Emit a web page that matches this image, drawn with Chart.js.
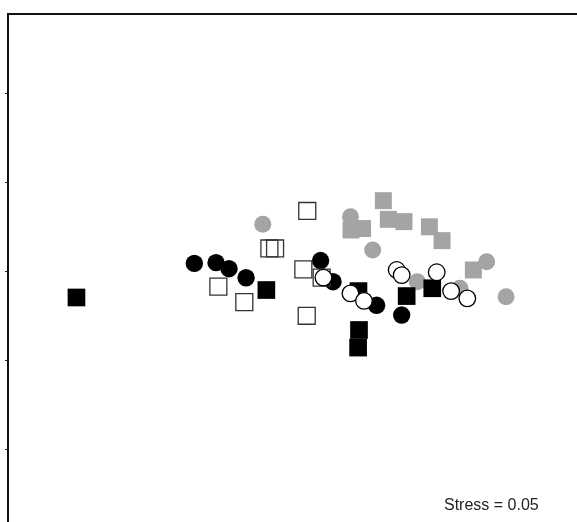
<!DOCTYPE html>
<html>
<head>
<meta charset="utf-8">
<script src="https://cdn.jsdelivr.net/npm/chart.js@4.4.1/dist/chart.umd.min.js"></script>
<style>
  html, body { margin: 0; padding: 0; background: #fff; overflow: hidden; }
  #nmds { display: block; }
</style>
</head>
<body>
<canvas id="nmds" width="577" height="522"></canvas>
<script>
// NMDS ordination, axis 1 (x) vs axis 2 (y)
const filledSquares = [
  [-1.365, -0.146], [-0.297, -0.104], [0.221, -0.110], [0.224, -0.329],
  [0.219, -0.428], [0.492, -0.138], [0.636, -0.094]
];
const openSquares = [
  [-0.067, 0.341], [-0.280, 0.130], [-0.248, 0.130], [-0.567, -0.085],
  [-0.421, -0.172], [-0.089, 0.012], [0.014, -0.034], [-0.070, -0.249]
];
const filledCircles = [
  [-0.702, 0.046], [-0.580, 0.050], [-0.507, 0.016], [-0.411, -0.035],
  [0.008, 0.062], [0.078, -0.057], [0.323, -0.190], [0.464, -0.245]
];
const openCircles = [
  [0.024, -0.034], [0.176, -0.123], [0.252, -0.165], [0.436, 0.009],
  [0.464, -0.020], [0.661, -0.004], [0.742, -0.110], [0.833, -0.151]
];
const greyCircles = [
  [-0.317, 0.266], [0.176, 0.309], [0.301, 0.121], [0.552, -0.057],
  [0.792, -0.094], [0.942, 0.055], [1.051, -0.142]
];
const greySquares = [
  [0.361, 0.399], [0.179, 0.234], [0.244, 0.242], [0.389, 0.294],
  [0.477, 0.281], [0.620, 0.252], [0.691, 0.174], [0.867, 0.009]
];
const yTickValues = [-1, -0.5, 0, 0.5, 1];
const stressLabel = 'Stress = 0.05';

const GREY = '#a4a4a4';
const toXY = arr => arr.map(([x, y]) => ({ x, y }));

// lower "order" is painted on top
function series(points, style, order) {
  return Object.assign({ data: toXY(points), order }, style);
}

const datasets = [
  series(greySquares, { pointStyle: 'rect', pointRadius: 12, backgroundColor: GREY, borderWidth: 0 }, 6),
  series(greyCircles, { pointStyle: 'circle', pointRadius: 8.5, backgroundColor: GREY, borderWidth: 0 }, 5),
  series(filledSquares, { pointStyle: 'rect', pointRadius: 12.5, backgroundColor: '#000', borderWidth: 0 }, 4),
  series(filledCircles, { pointStyle: 'circle', pointRadius: 8.7, backgroundColor: '#000', borderWidth: 0 }, 3),
  series(openSquares, { pointStyle: 'rect', pointRadius: 12, backgroundColor: 'rgba(255,255,255,0)', borderColor: '#333', borderWidth: 1.3 }, 2),
  series(openCircles, { pointStyle: 'circle', pointRadius: 8.3, backgroundColor: '#fff', borderColor: '#000', borderWidth: 1.3 }, 1)
];

const stressText = {
  id: 'stressText',
  afterDraw(chart) {
    const ctx = chart.ctx;
    ctx.save();
    ctx.font = '16px "Liberation Sans", Arial, sans-serif';
    ctx.fillStyle = '#222';
    ctx.textBaseline = 'alphabetic';
    ctx.fillText(stressLabel, 444, 510);
    ctx.restore();
  }
};

new Chart(document.getElementById('nmds'), {
  type: 'scatter',
  data: { datasets },
  options: {
    responsive: false,
    animation: false,
    events: [],
    layout: { padding: 0, autoPadding: false },
    plugins: { legend: { display: false }, tooltip: { enabled: false } },
    elements: { point: { hoverRadius: 0 } },
    scales: {
      x: {
        type: 'linear',
        position: 'top',
        min: -1.75,
        max: 1.45,
        ticks: { display: false },
        grid: { display: false, drawTicks: false },
        border: { display: true, color: '#111', width: 2 },
        afterFit(scale) { scale.height = 14; }
      },
      y: {
        type: 'linear',
        position: 'left',
        min: -1.41,
        max: 1.45,
        afterBuildTicks(scale) { scale.ticks = yTickValues.map(v => ({ value: v })); },
        ticks: { display: false },
        grid: { drawOnChartArea: false, drawTicks: true, tickLength: 3, color: '#222', tickWidth: 1 },
        border: { display: true, color: '#111', width: 2 },
        afterFit(scale) { scale.width = 8; }
      }
    }
  },
  plugins: [stressText]
});
</script>
</body>
</html>
